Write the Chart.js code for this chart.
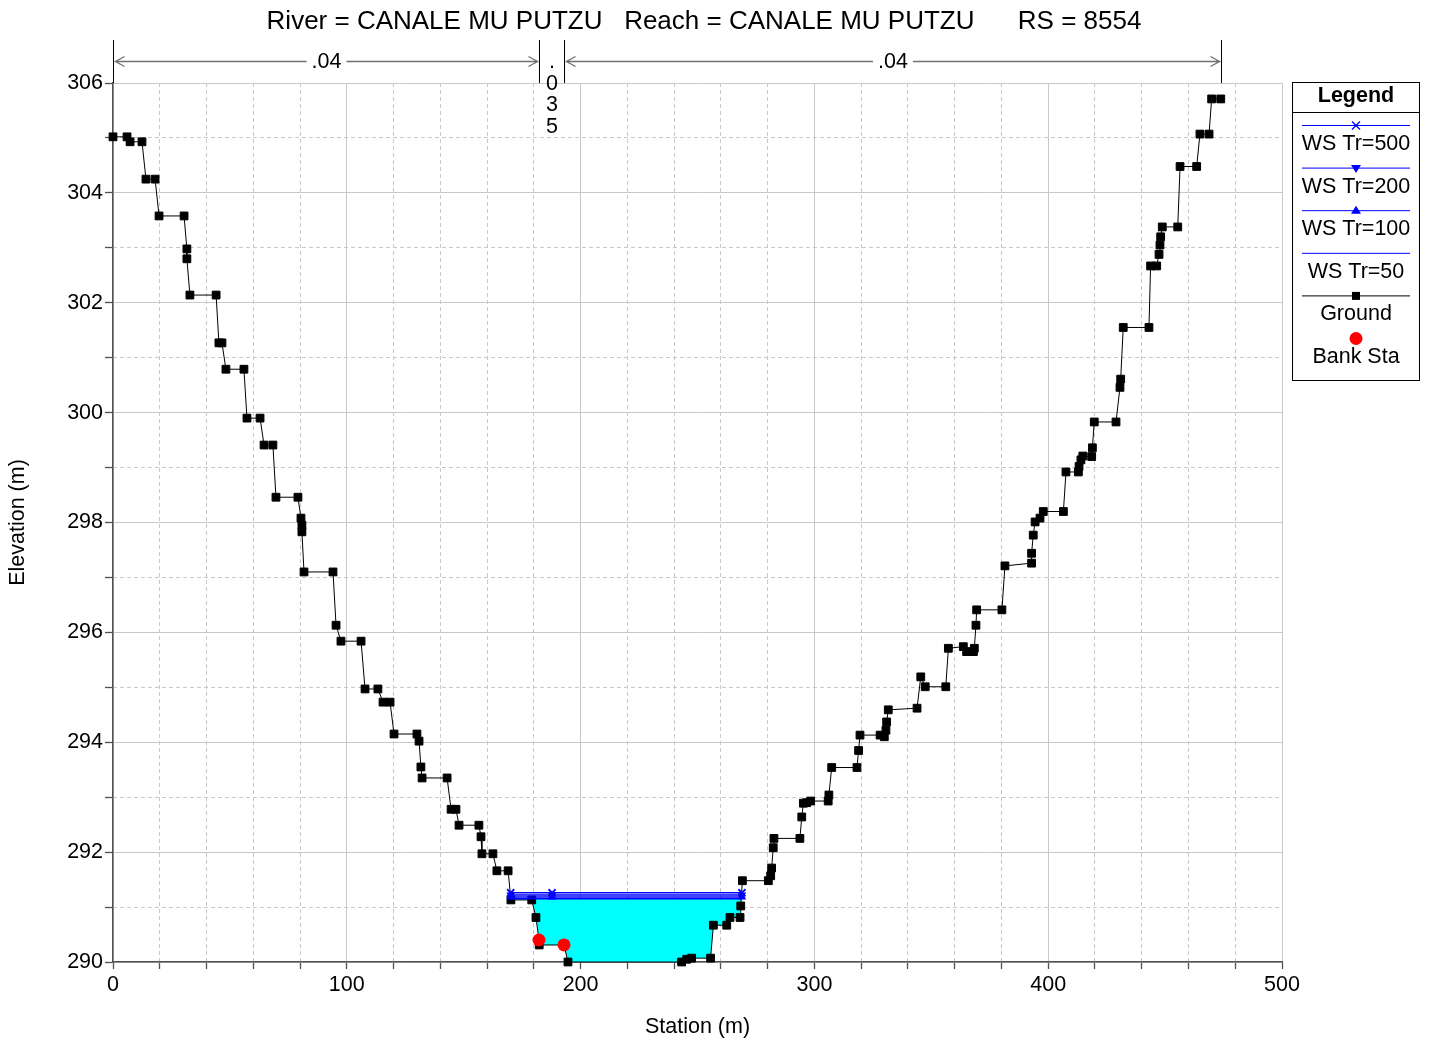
<!DOCTYPE html>
<html>
<head>
<meta charset="utf-8">
<title>Cross section RS 8554</title>
<script src="https://cdn.jsdelivr.net/npm/chart.js@4.4.1/dist/chart.umd.min.js"></script>
<style>
  html, body { margin: 0; padding: 0; background: #fff; }
  #wrap { width: 1430px; height: 1040px; }
</style>
</head>
<body>
<div id="wrap"><canvas id="xs" width="1430" height="1040"></canvas></div>
<script>
const titleText = "River = CANALE MU PUTZU   Reach = CANALE MU PUTZU      RS = 8554";

// ground survey (station m, elevation m)
const groundStation = [
  0, 6.0, 7.3, 12.4, 14.1, 18.0, 19.7, 30.4, 31.6, 31.6,
  32.9, 44.1, 45.3, 46.6, 48.3, 56.0, 57.3, 62.9, 64.6, 68.4,
  69.7, 79.1, 80.4, 80.8, 80.8, 81.7, 94.1, 95.4, 97.5, 106.1,
  107.8, 113.3, 115.5, 118.5, 120.2, 130.0, 130.9, 131.7, 132.2, 142.9,
  144.6, 146.7, 148.0, 156.5, 157.4, 157.8, 162.5, 164.2, 169.0, 170.2,
  179.1, 180.9, 182.2, 182.3, 192.9, 194.6, 243.2, 245.4, 247.5, 255.6,
  256.8, 262.5, 263.9, 268.2, 268.5, 269.2, 280.3, 281.3, 281.7, 282.4,
  282.7, 293.8, 294.6, 295.3, 296.7, 298.4, 305.9, 306.2, 307.4, 318.2,
  318.9, 319.5, 328.1, 329.9, 330.6, 330.9, 331.6, 343.9, 345.5, 347.4,
  356.2, 357.3, 363.7, 365.1, 368.0, 368.4, 369.1, 369.4, 380.2, 381.5,
  392.9, 392.9, 393.6, 394.4, 396.5, 397.9, 406.5, 407.6, 412.9, 413.2,
  414.0, 414.8, 418.6, 418.9, 419.7, 429.0, 430.7, 431.0, 432.1, 443.1,
  443.8, 446.4, 447.4, 447.8, 448.1, 448.8, 455.4, 456.4, 463.5, 464.9,
  468.8, 469.9, 473.8
];
const groundElev = [
  305.02, 305.02, 304.93, 304.93, 304.25, 304.25, 303.58, 303.58, 302.98, 302.80,
  302.14, 302.14, 301.27, 301.27, 300.79, 300.79, 299.90, 299.90, 299.41, 299.41,
  298.46, 298.46, 298.08, 297.95, 297.83, 297.10, 297.10, 296.13, 295.84, 295.84,
  294.97, 294.97, 294.73, 294.73, 294.15, 294.15, 294.02, 293.55, 293.35, 293.35,
  292.78, 292.78, 292.49, 292.49, 292.28, 291.97, 291.97, 291.66, 291.66, 291.13,
  291.13, 290.81, 290.40, 290.31, 290.31, 290.00, 290.00, 290.05, 290.07, 290.07,
  290.67, 290.67, 290.81, 290.81, 291.02, 291.48, 291.48, 291.57, 291.71, 292.08,
  292.25, 292.25, 292.64, 292.89, 292.90, 292.93, 292.93, 293.04, 293.54, 293.54,
  293.85, 294.13, 294.13, 294.10, 294.22, 294.37, 294.59, 294.62, 295.19, 295.01,
  295.01, 295.71, 295.74, 295.65, 295.65, 295.71, 296.13, 296.41, 296.41, 297.21,
  297.26, 297.44, 297.77, 298.01, 298.08, 298.20, 298.20, 298.92, 298.92, 299.02,
  299.14, 299.21, 299.20, 299.36, 299.83, 299.83, 300.46, 300.61, 301.55, 301.55,
  302.67, 302.67, 302.88, 303.05, 303.20, 303.38, 303.38, 304.48, 304.48, 305.07,
  305.07, 305.71, 305.71
];

const bankStation = [182.2, 192.9];
const bankElev = [290.40, 290.31];

// water surface profiles
const wsLabels = ["WS Tr=500", "WS Tr=200", "WS Tr=100", "WS Tr=50"];
const wsElev = [291.26, 291.22, 291.185, 291.15];
const wsStation = [170.1, 187.8, 269.0];
const wsMarker = ["crossRot", "triangleDown", "triangle", null];

const nValues = [".04", ".035", ".04"];
const xTickLabels = [0, 100, 200, 300, 400, 500];
const yTickLabels = [290, 292, 294, 296, 298, 300, 302, 304, 306];

const FONT = "'Liberation Sans', Arial, Helvetica, sans-serif";
const FS = 21.5;
const BLUE = "#0000ff";
const AXIS = "#505050";
const GRID = "#c8c8c8";

const pts = (xs, ys) => xs.map((x, i) => ({ x: x, y: ys[i] }));

const datasets = wsLabels.map((label, i) => {
  const style = wsMarker[i];
  const ds = {
    label: label,
    data: wsStation.map(x => ({ x: x, y: wsElev[i] })),
    borderColor: BLUE,
    backgroundColor: BLUE,
    borderWidth: 1.5,
    pointStyle: style === "triangleDown" ? "triangle" : (style || "circle"),
    pointRotation: style === "triangleDown" ? 180 : 0,
    pointRadius: style ? 5 : 0,
    pointBorderWidth: style === "crossRot" ? 1.8 : 0,
    pointBorderColor: BLUE,
    pointBackgroundColor: BLUE,
    fill: false,
    clip: false,
    order: i + 1,
    legendMarker: style
  };
  if (i === wsLabels.length - 1) {
    ds.fill = { target: 4, above: "#00ffff", below: "rgba(0,0,0,0)" };
  }
  return ds;
});

datasets.push({
  label: "Ground",
  data: pts(groundStation, groundElev),
  borderColor: "#000",
  backgroundColor: "#000",
  borderWidth: 1,
  pointStyle: "rect",
  pointRadius: 5.5,
  pointBorderWidth: 1,
  pointBackgroundColor: "#000",
  pointBorderColor: "#000",
  fill: false,
  clip: false,
  order: 5,
  legendMarker: "rect"
});

datasets.push({
  label: "Bank Sta",
  data: pts(bankStation, bankElev),
  showLine: false,
  borderColor: "#ff0000",
  backgroundColor: "#ff0000",
  pointStyle: "circle",
  pointRadius: 6.5,
  pointBorderWidth: 0,
  pointBackgroundColor: "#ff0000",
  fill: false,
  clip: false,
  order: 0,
  legendMarker: "circle"
});

function drawMarker(ctx, style, x, y, color) {
  ctx.save();
  ctx.fillStyle = color;
  ctx.strokeStyle = color;
  ctx.lineWidth = 1.3;
  ctx.beginPath();
  if (style === "rect") {
    ctx.fillRect(x - 4, y - 4, 8, 8);
  } else if (style === "circle") {
    ctx.arc(x, y, 6.5, 0, Math.PI * 2);
    ctx.fill();
  } else if (style === "triangle") {
    ctx.moveTo(x, y - 5); ctx.lineTo(x + 5, y + 3); ctx.lineTo(x - 5, y + 3);
    ctx.closePath(); ctx.fill();
  } else if (style === "triangleDown") {
    ctx.moveTo(x, y + 5); ctx.lineTo(x + 5, y - 3); ctx.lineTo(x - 5, y - 3);
    ctx.closePath(); ctx.fill();
  } else if (style === "crossRot") {
    ctx.moveTo(x - 4, y - 4); ctx.lineTo(x + 4, y + 4);
    ctx.moveTo(x + 4, y - 4); ctx.lineTo(x - 4, y + 4);
    ctx.stroke();
  }
  ctx.restore();
}

// title, manning's n bands and the boxed legend
const decorations = {
  id: "decorations",
  afterDraw(chart) {
    const ctx = chart.ctx;
    const xs = chart.scales.x;
    const area = chart.chartArea;

    ctx.save();
    ctx.fillStyle = "#000";
    ctx.font = "26px " + FONT;
    ctx.textAlign = "center";
    ctx.textBaseline = "middle";
    ctx.fillText(titleText, 704, 22);

    // n value bands
    const breaks = [groundStation[0], bankStation[0], bankStation[1], groundStation[groundStation.length - 1]];
    const bx = breaks.map(b => Math.round(xs.getPixelForValue(b)) + 0.5);
    const ay = 61.5;
    ctx.strokeStyle = "#000";
    ctx.lineWidth = 1;
    bx.forEach(px => {
      ctx.beginPath(); ctx.moveTo(px, 40); ctx.lineTo(px, area.top); ctx.stroke();
    });
    ctx.font = FS + "px " + FONT;
    nValues.forEach((lab, i) => {
      const a = bx[i], b = bx[i + 1];
      const mid = (a + b) / 2;
      const tw = ctx.measureText(lab).width;
      if (b - a > tw + 40) {
        ctx.strokeStyle = "#707070";
        ctx.lineWidth = 1.3;
        ctx.beginPath();
        ctx.moveTo(a + 1, ay); ctx.lineTo(mid - tw / 2 - 5, ay);
        ctx.moveTo(mid + tw / 2 + 5, ay); ctx.lineTo(b - 1, ay);
        ctx.moveTo(a + 11, ay - 5); ctx.lineTo(a + 2, ay); ctx.lineTo(a + 11, ay + 5);
        ctx.moveTo(b - 11, ay - 5); ctx.lineTo(b - 2, ay); ctx.lineTo(b - 11, ay + 5);
        ctx.stroke();
        ctx.fillStyle = "#000";
        ctx.fillText(lab, mid, ay + 1);
      } else {
        ctx.fillStyle = "#000";
        lab.split("").forEach((ch, k) => ctx.fillText(ch, mid, ay + 1 + k * 21.5));
      }
    });

    // legend box
    const lx = 1292.5, ly = 82.5, lw = 127, lh = 298;
    const cx = lx + lw / 2;
    ctx.strokeStyle = "#000";
    ctx.lineWidth = 1;
    ctx.strokeRect(lx, ly, lw, lh);
    ctx.beginPath(); ctx.moveTo(lx, 112.5); ctx.lineTo(lx + lw, 112.5); ctx.stroke();
    ctx.fillStyle = "#000";
    ctx.font = "bold " + FS + "px " + FONT;
    ctx.fillText("Legend", cx, 96);
    ctx.font = FS + "px " + FONT;
    chart.data.datasets.forEach((ds, i) => {
      const lineY = 125.5 + i * 42.6;
      if (ds.showLine !== false) {
        ctx.strokeStyle = ds.borderColor;
        ctx.lineWidth = 1;
        ctx.beginPath(); ctx.moveTo(1302, lineY); ctx.lineTo(1410, lineY); ctx.stroke();
      }
      if (ds.legendMarker) drawMarker(ctx, ds.legendMarker, cx, lineY, ds.borderColor);
      ctx.fillStyle = "#000";
      ctx.fillText(ds.label, cx, 144 + i * 42.6);
    });
    ctx.restore();
  }
};

new Chart(document.getElementById("xs"), {
  type: "line",
  data: { datasets: datasets },
  options: {
    responsive: false,
    devicePixelRatio: 1,
    animation: false,
    events: [],
    layout: { padding: { top: 83, right: 148, bottom: 0, left: 0 } },
    plugins: {
      legend: { display: false },
      title: { display: false },
      tooltip: { enabled: false },
      filler: { propagate: false, drawTime: "beforeDatasetsDraw" }
    },
    elements: { line: { tension: 0 } },
    scales: {
      x: {
        type: "linear",
        position: "bottom",
        min: 0, max: 500,
        ticks: {
          stepSize: 20, autoSkip: false, maxRotation: 0, padding: 3,
          color: "#000", font: { family: FONT, size: FS },
          callback: v => xTickLabels.includes(v) ? v : ""
        },
        grid: {
          color: c => (c.tick && xTickLabels.includes(c.tick.value)) ? GRID : "rgba(0,0,0,0)",
          tickColor: AXIS, tickLength: 7, tickWidth: 1.3, lineWidth: 1
        },
        border: { color: AXIS, width: 1.5 },
        title: {
          display: true, text: "Station (m)", color: "#000",
          font: { family: FONT, size: FS }, padding: { top: 0, bottom: 0 }
        },
        afterFit: s => { s.height = 78; }
      },
      xMinor: {
        type: "linear",
        position: "bottom",
        min: 0, max: 500,
        ticks: { stepSize: 20, display: false, autoSkip: false },
        grid: {
          drawTicks: false,
          color: c => (c.tick && !xTickLabels.includes(c.tick.value)) ? GRID : "rgba(0,0,0,0)"
        },
        border: { display: false, dash: [4, 3] },
        afterFit: s => { s.height = 0; }
      },
      y: {
        type: "linear",
        position: "left",
        min: 290, max: 306,
        ticks: {
          stepSize: 1, autoSkip: false, padding: 2,
          color: "#000", font: { family: FONT, size: FS },
          callback: v => yTickLabels.includes(v) ? v : ""
        },
        grid: {
          color: c => (c.tick && yTickLabels.includes(c.tick.value)) ? GRID : "rgba(0,0,0,0)",
          tickColor: AXIS, tickLength: 8, tickWidth: 1.3, lineWidth: 1
        },
        border: { color: AXIS, width: 1.5 },
        title: {
          display: true, text: "Elevation (m)", color: "#000",
          font: { family: FONT, size: FS }, padding: { top: 5, bottom: 0 }
        },
        afterFit: s => { s.width = 113; }
      },
      yMinor: {
        type: "linear",
        position: "left",
        min: 290, max: 306,
        ticks: { stepSize: 1, display: false, autoSkip: false },
        grid: {
          drawTicks: false,
          color: c => (c.tick && !yTickLabels.includes(c.tick.value)) ? GRID : "rgba(0,0,0,0)"
        },
        border: { display: false, dash: [4, 3] },
        afterFit: s => { s.width = 0; }
      }
    }
  },
  plugins: [decorations]
});
</script>
</body>
</html>
